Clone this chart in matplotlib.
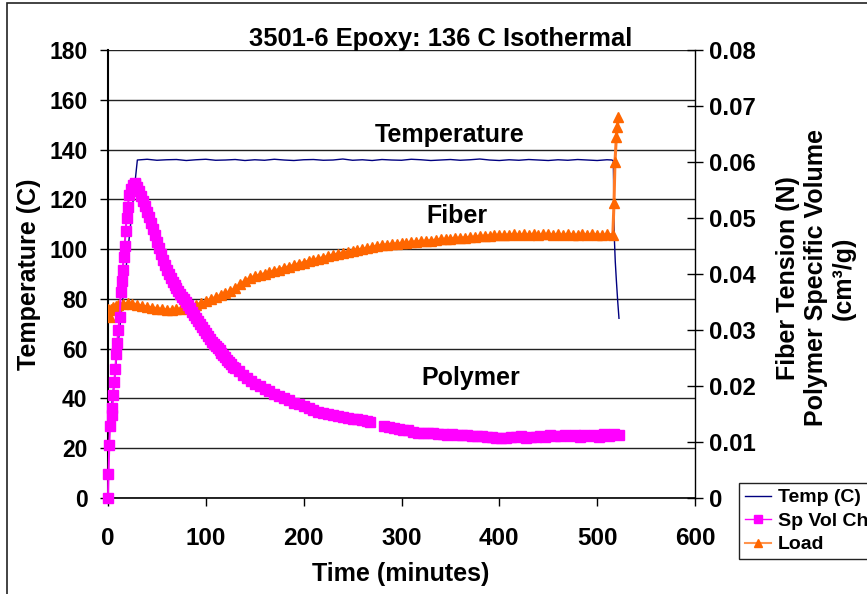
import numpy as np
import matplotlib
matplotlib.use("Agg")
import matplotlib.pyplot as plt
from matplotlib.lines import Line2D
from matplotlib.patches import Rectangle

plt.rcParams['font.family'] = ['Liberation Sans', 'DejaVu Sans']
plt.rcParams['font.weight'] = 'bold'

# temperature (C), left axis
temp_t = [0, 30, 40, 50, 60, 70, 80, 90, 100, 110, 120, 130, 140, 150, 160, 170, 180,
          190, 200, 210, 220, 230, 240, 250, 260, 270, 280, 290, 300, 310, 320, 330,
          340, 350, 360, 370, 380, 390, 400, 410, 420, 430, 440, 450, 460, 470, 480,
          490, 500, 510, 515, 516.5, 517, 517.5, 518.5, 519.6, 521, 522.3]
temp_c = [23, 135.8, 136.1, 135.7, 135.9, 136.0, 135.6, 135.9, 136.1, 135.7, 135.8, 136.0,
          135.6, 135.9, 135.7, 136.1, 135.8, 135.6, 135.9, 136.0, 135.7, 135.8, 136.2,
          135.7, 135.9, 135.6, 136.0, 135.8, 135.7, 136.1, 135.9, 135.6, 135.8, 136.0,
          135.7, 135.9, 136.2, 135.8, 135.6, 135.9, 135.7, 136.0, 135.8, 135.6, 135.9,
          135.7, 136.0, 135.8, 135.6, 135.9, 135.8, 135.5, 120, 105, 95, 87.6, 79, 72.2]

# polymer specific volume change (cm3/g), right axis
spv_t = [0, 0.5, 1.3, 2.0, 3.8, 4.4, 5.4, 6.5, 7.5, 8.5, 9.5, 10.5, 12, 13, 14, 15, 16,
         17, 18, 19, 20, 21.8, 24, 26, 27.6,
         28, 30, 32, 34, 36, 38, 40, 42, 44, 46, 48, 50, 52, 54, 56, 58, 60, 62, 64, 66,
         68, 70, 72, 74, 76, 78, 80, 82, 84, 86, 88, 90, 92, 94, 96, 98, 100, 102, 104,
         106, 108, 110, 112, 114, 116, 118, 120, 122, 124, 126, 128, 130, 134, 138, 142,
         146, 150, 155, 160, 165, 170, 175, 180, 185, 190, 195, 200, 205, 210, 215, 220,
         225, 230, 235, 240, 245, 250, 255, 260, 265, 268, 270,
         282, 287, 292, 297, 302, 307, 312, 317, 322, 327, 332, 337, 342, 347, 352, 357,
         362, 367, 372, 377, 382, 387, 392, 397, 402, 407, 412, 417, 422, 427, 432, 437,
         442, 447, 452, 457, 462, 467, 472, 477, 482, 487, 492, 497, 502, 507, 512, 517,
         522]
spv_v = [0, 0.00427, 0.00947, 0.01289, 0.01480, 0.01600, 0.01840, 0.02071, 0.02302,
         0.02573, 0.02773, 0.03000, 0.03236, 0.03684, 0.03880, 0.04071, 0.04302, 0.04502,
         0.04769, 0.05004, 0.05200, 0.05409, 0.05511, 0.05591, 0.05622,
         0.05613, 0.05556, 0.05476, 0.05391, 0.05302, 0.05209, 0.05111, 0.05013, 0.04911,
         0.04800, 0.04689, 0.04578, 0.04462, 0.04356, 0.04258, 0.04160, 0.04071, 0.04000,
         0.03929, 0.03862, 0.03796, 0.03742, 0.03689, 0.03640, 0.03591, 0.03547, 0.03498,
         0.03444, 0.03387, 0.03324, 0.03262, 0.03209, 0.03156, 0.03102, 0.03049, 0.02996,
         0.02942, 0.02884, 0.02831, 0.02791, 0.02751, 0.02716, 0.02680, 0.02640, 0.02596,
         0.02556, 0.02516, 0.02471, 0.02431, 0.02387, 0.02347, 0.02320, 0.02267, 0.02204,
         0.02142, 0.02098, 0.02044, 0.02000, 0.01947, 0.01902, 0.01858, 0.01813, 0.01778,
         0.01742, 0.01698, 0.01671, 0.01644, 0.01600, 0.01564, 0.01542, 0.01520, 0.01493,
         0.01480, 0.01467, 0.01449, 0.01431, 0.01418, 0.01404, 0.01387, 0.01373, 0.01364,
         np.nan,
         0.01289, 0.01276, 0.01253, 0.01236, 0.01218, 0.01209, 0.01182, 0.01164, 0.01169,
         0.01156, 0.01156, 0.01138, 0.01147, 0.01129, 0.01138, 0.01120, 0.01129, 0.01124,
         0.01111, 0.01102, 0.01111, 0.01093, 0.01084, 0.01076, 0.01067, 0.01080, 0.01093,
         0.01084, 0.01102, 0.01080, 0.01093, 0.01084, 0.01111, 0.01098, 0.01124, 0.01102,
         0.01111, 0.01129, 0.01107, 0.01120, 0.01093, 0.01129, 0.01102, 0.01133, 0.01098,
         0.01138, 0.01107, 0.01147, 0.01129]

# fiber load (N), right axis
load_t = [0, 1, 2, 3, 5, 8, 10.6, 15, 20.8, 25, 30, 35, 40, 45, 50, 55, 60, 65, 70, 75,
          80, 85, 90, 95, 100, 105, 110, 115, 120, 125, 130, 135, 140, 145, 150, 155, 160,
          165, 170, 175, 180, 185, 190, 195, 200, 205, 210, 215, 220, 225, 230, 235, 240,
          245, 250, 255, 260, 265, 270, 275, 280, 285, 290, 295, 300, 305, 310, 315, 320,
          325, 330, 335, 340, 345, 350, 355, 360, 365, 370, 375, 380, 385, 390, 395, 400,
          405, 410, 415, 420, 425, 430, 435, 440, 445, 450, 455, 460, 465, 470, 475, 480,
          485, 490, 495, 500, 505, 510, 516, 517.2, 518.2, 519.6, 520.7, 521.7]
load_n = [0.03373, 0.03356, 0.03236, 0.03378, 0.03413, 0.03431, 0.03444, 0.03467, 0.03476,
          0.03467, 0.03449, 0.03427, 0.03413, 0.03396, 0.03382, 0.03369, 0.03360, 0.03360,
          0.03369, 0.03378, 0.03400, 0.03422, 0.03449, 0.03476, 0.03511, 0.03547, 0.03582,
          0.03618, 0.03653, 0.03689, 0.03742, 0.03813, 0.03876, 0.03924, 0.03956, 0.03982,
          0.04004, 0.04027, 0.04058, 0.04080, 0.04107, 0.04129, 0.04156, 0.04182, 0.04204,
          0.04231, 0.04253, 0.04271, 0.04293, 0.04316, 0.04338, 0.04356, 0.04378, 0.04400,
          0.04418, 0.04431, 0.04444, 0.04458, 0.04480, 0.04498, 0.04516, 0.04524, 0.04533,
          0.04542, 0.04547, 0.04560, 0.04569, 0.04578, 0.04582, 0.04587, 0.04596, 0.04604,
          0.04618, 0.04622, 0.04631, 0.04636, 0.04640, 0.04649, 0.04653, 0.04662, 0.04671,
          0.04676, 0.04684, 0.04689, 0.04698, 0.04693, 0.04702, 0.04707, 0.04698, 0.04707,
          0.04702, 0.04711, 0.04693, 0.04707, 0.04711, 0.04698, 0.04707, 0.04693, 0.04707,
          0.04702, 0.04693, 0.04711, 0.04698, 0.04707, 0.04702, 0.04693, 0.04707, 0.04702,
          0.05262, 0.06004, 0.06440, 0.06631, 0.06800]

right_ticks = [0, 0.01, 0.02, 0.03, 0.04, 0.05, 0.06, 0.07, 0.08]
right_labels = ['0', '0.01', '0.02', '0.03', '0.04', '0.05', '0.06', '0.07', '0.08']

W, H = 867, 594
fig = plt.figure(figsize=(W / 100, H / 100), dpi=100)
fig.patches.append(Rectangle((7 / W, -0.1), 2, 1 - 3 / H + 0.1, transform=fig.transFigure,
                             fill=False, ec='#222222', lw=1.2))

ax = fig.add_axes([108 / W, 1 - 498 / H, (695 - 108) / W, (498 - 50) / H])
ax.set_xlim(0, 600)
ax.set_ylim(0, 180)
ax.set_xticks(range(0, 601, 100))
ax.set_yticks(range(0, 181, 20))
ax.grid(axis='y', color='#222222', lw=1)
ax.set_axisbelow(True)
for s in ['top', 'right']:
    ax.spines[s].set_visible(False)
ax.spines['left'].set_linewidth(1.5)
ax.spines['bottom'].set_linewidth(1.2)
ax.tick_params(axis='both', direction='out', length=5.8, width=1, pad=9)
ax.tick_params(axis='y', labelsize=16.5)
ax.tick_params(axis='x', labelsize=17.5, pad=15)

ax.plot(temp_t, temp_c, color='#000080', lw=1)

ax2 = ax.twinx()
ax2.set_ylim(0, 0.08)
ax2.set_yticks(right_ticks)
ax2.set_yticklabels(right_labels)
for s in ['top', 'left', 'bottom']:
    ax2.spines[s].set_visible(False)
ax2.spines['right'].set_linewidth(1)
ax2.tick_params(axis='y', direction='inout', length=11.5, width=1, labelsize=17.2, pad=4)

ax2.plot(load_t, load_n, color='#FF7A26', lw=2.2, marker='^', ms=6.5,
         mfc='#FF6600', mec='#FF6600')
ax2.plot(spv_t, spv_v, color='#FF00FF', lw=1.5, marker='s', ms=6.5,
         mfc='#FF00FF', mec='#FF00FF', clip_on=False)

ax.text(349, 143, 'Temperature', ha='center', va='baseline', fontsize=18)
ax.text(357, 110.6, 'Fiber', ha='center', va='baseline', fontsize=18)
ax.text(371, 45.4, 'Polymer', ha='center', va='baseline', fontsize=18)

fig.text(441 / W, 1 - 46 / H, '3501-6 Epoxy: 136 C Isothermal', ha='center', va='baseline',
         fontsize=18.4)
fig.text(401 / W, 1 - 574 / H, 'Time (minutes)', ha='center', va='center', fontsize=18)
fig.text(29 / W, 1 - 274 / H, 'Temperature (C)', ha='center', va='center', rotation=90,
         fontsize=18)
fig.text(816 / W, 1 - 278 / H, 'Fiber Tension (N)\nPolymer Specific Volume\n(cm³/g)',
         ha='center', va='center', rotation=90, multialignment='center', fontsize=18)

handles = [Line2D([], [], color='#000080', lw=1),
           Line2D([], [], color='#FF00FF', lw=1, marker='s', ms=5.5),
           Line2D([], [], color='#FF944D', lw=1.5, marker='^', ms=6, mfc='#FF6600',
                  mec='#FF6600')]
leg = fig.legend(handles, ['Temp (C)', 'Sp Vol Ch', 'Load'], loc='upper left',
                 bbox_to_anchor=(739 / W, 1 - 483 / H), bbox_transform=fig.transFigure,
                 borderaxespad=0, fontsize=14, handlelength=1.35, handletextpad=0.35,
                 labelspacing=0.3, borderpad=0.3, fancybox=False, framealpha=1,
                 edgecolor='#222222')
leg.get_frame().set_linewidth(1)

fig.savefig('out.png', dpi=100)
